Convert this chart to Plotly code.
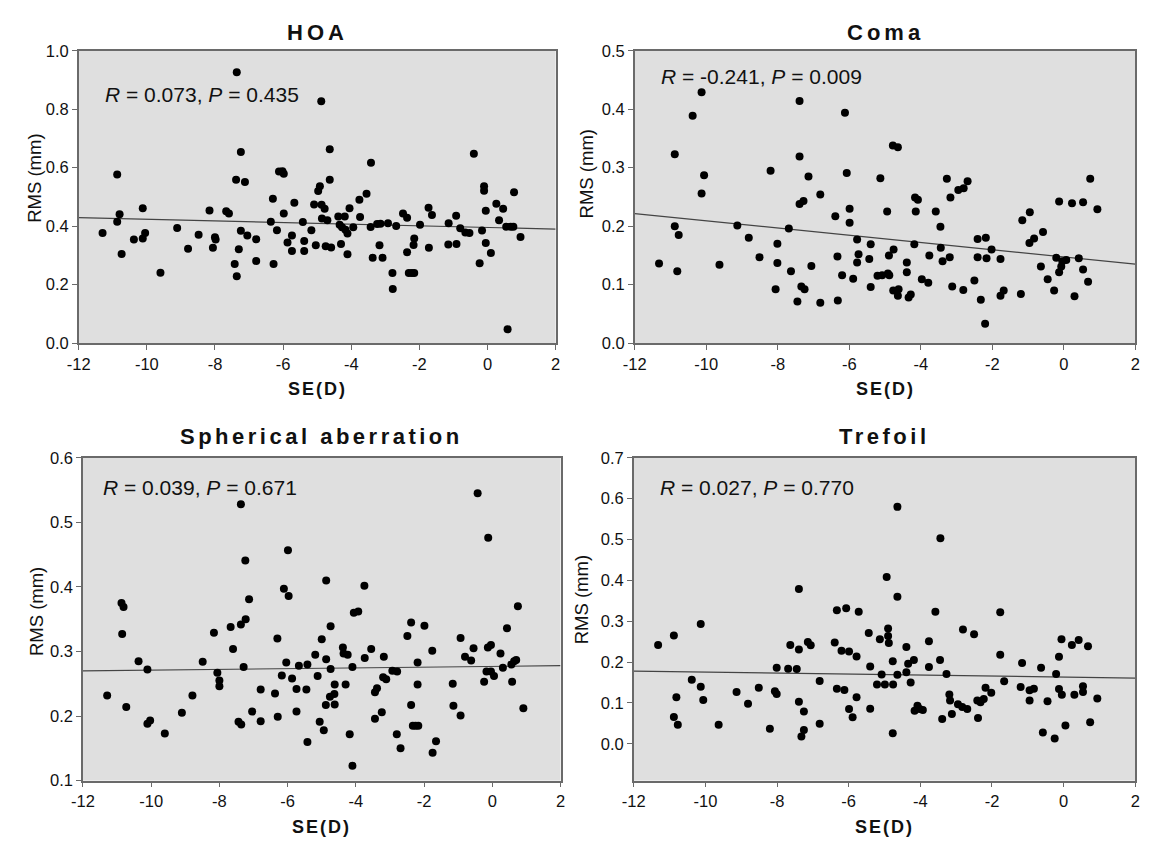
import plotly.graph_objects as go

# ---- data: spherical equivalent (D) vs RMS (mm) per aberration ----
hoa_se = [-11.30, -10.87, -10.87, -10.80, -10.74, -10.38, -10.12, -10.12, -10.05, -9.60,
          -9.11, -8.79, -8.48, -8.16, -8.06, -8.00, -7.98, -7.67, -7.59, -7.36,
          -7.38, -7.24, -7.12, -7.42, -7.36, -7.30, -7.24, -7.05, -6.79, -6.79,
          -6.30, -6.28, -6.36, -6.18, -6.12, -6.02, -5.98, -5.98, -5.87, -5.74,
          -5.74, -5.67, -5.42, -5.38, -5.38, -5.17, -5.09, -5.04, -4.97, -4.92,
          -4.88, -4.87, -4.86, -4.78, -4.75, -4.70, -4.63, -4.63, -4.59, -4.38,
          -4.34, -4.30, -4.27, -4.19, -4.17, -4.11, -4.11, -4.05, -3.94, -3.76,
          -3.74, -3.55, -3.42, -3.43, -3.37, -3.24, -3.17, -3.14, -3.08, -2.92,
          -2.79, -2.78, -2.68, -2.48, -2.36, -2.36, -2.31, -2.22, -2.15, -2.17,
          -2.15, -1.98, -1.73, -1.72, -1.63, -1.15, -1.14, -0.92, -0.91, -0.80,
          -0.65, -0.53, -0.40, -0.23, -0.16, -0.10, -0.10, -0.05, -0.05, 0.10,
          0.26, 0.34, 0.46, 0.55, 0.59, 0.68, 0.78, 0.76, 0.97]
hoa_rms = [0.377, 0.577, 0.415, 0.441, 0.305, 0.354, 0.461, 0.358, 0.377, 0.241,
           0.394, 0.323, 0.371, 0.454, 0.326, 0.362, 0.354, 0.451, 0.443, 0.927,
           0.559, 0.654, 0.551, 0.271, 0.229, 0.321, 0.384, 0.368, 0.355, 0.281,
           0.494, 0.271, 0.415, 0.386, 0.587, 0.588, 0.579, 0.443, 0.344, 0.368,
           0.315, 0.480, 0.414, 0.349, 0.315, 0.386, 0.474, 0.335, 0.520, 0.537,
           0.827, 0.473, 0.426, 0.460, 0.331, 0.420, 0.663, 0.559, 0.327, 0.433,
           0.405, 0.339, 0.396, 0.433, 0.388, 0.375, 0.304, 0.461, 0.396, 0.490,
           0.431, 0.511, 0.617, 0.397, 0.292, 0.407, 0.335, 0.408, 0.292, 0.410,
           0.240, 0.185, 0.401, 0.443, 0.429, 0.311, 0.240, 0.240, 0.240, 0.336,
           0.358, 0.405, 0.463, 0.326, 0.438, 0.337, 0.410, 0.436, 0.339, 0.393,
           0.378, 0.377, 0.648, 0.273, 0.385, 0.537, 0.521, 0.453, 0.342, 0.308,
           0.477, 0.420, 0.460, 0.398, 0.047, 0.398, 0.516, 0.398, 0.363]

coma_se = [-11.32, -10.88, -10.88, -10.81, -10.77, -10.38, -10.13, -10.06, -10.13, -9.63,
           -9.13, -8.81, -8.51, -8.20, -8.01, -8.01, -8.06, -7.69, -7.63, -7.39,
           -7.39, -7.39, -7.28, -7.14, -7.45, -7.34, -7.25, -7.06, -6.81, -6.81,
           -6.39, -6.33, -6.32, -6.20, -6.12, -6.07, -5.99, -5.99, -5.89, -5.78,
           -5.74, -5.78, -5.44, -5.40, -5.40, -5.21, -5.13, -5.08, -4.94, -4.92,
           -4.88, -4.89, -4.76, -4.78, -4.64, -4.77, -4.62, -4.64, -4.39, -4.39,
           -4.34, -4.28, -4.18, -4.16, -4.08, -4.14, -3.97, -3.79, -3.76, -3.58,
           -3.45, -3.44, -3.39, -3.27, -3.19, -3.17, -3.12, -2.95, -2.80, -2.69,
           -2.81, -2.50, -2.41, -2.41, -2.32, -2.20, -2.18, -2.16, -2.02, -1.77,
           -1.77, -1.68, -1.20, -1.16, -0.95, -0.96, -0.83, -0.58, -0.64, -0.45,
           -0.27, -0.21, -0.13, -0.13, -0.07, -0.04, 0.07, 0.23, 0.30, 0.42,
           0.54, 0.54, 0.68, 0.74, 0.94]
coma_rms = [0.136, 0.323, 0.200, 0.123, 0.185, 0.389, 0.429, 0.287, 0.256, 0.134,
            0.201, 0.180, 0.147, 0.295, 0.170, 0.137, 0.092, 0.196, 0.123, 0.414,
            0.319, 0.238, 0.243, 0.285, 0.071, 0.097, 0.092, 0.132, 0.254, 0.069,
            0.217, 0.148, 0.073, 0.116, 0.394, 0.291, 0.230, 0.206, 0.110, 0.177,
            0.152, 0.138, 0.144, 0.169, 0.096, 0.115, 0.282, 0.116, 0.225, 0.119,
            0.116, 0.150, 0.160, 0.338, 0.335, 0.090, 0.092, 0.081, 0.138, 0.121,
            0.078, 0.083, 0.169, 0.249, 0.245, 0.225, 0.109, 0.103, 0.150, 0.225,
            0.199, 0.163, 0.140, 0.281, 0.147, 0.249, 0.097, 0.262, 0.265, 0.277,
            0.091, 0.107, 0.178, 0.147, 0.074, 0.033, 0.180, 0.145, 0.160, 0.144,
            0.081, 0.090, 0.084, 0.210, 0.224, 0.171, 0.179, 0.190, 0.131, 0.109,
            0.090, 0.146, 0.242, 0.121, 0.131, 0.140, 0.142, 0.239, 0.080, 0.145,
            0.241, 0.126, 0.105, 0.281, 0.229]

sph_se = [-11.29, -10.87, -10.81, -10.85, -10.73, -10.37, -10.11, -10.11, -10.03, -9.60,
          -9.10, -8.79, -8.49, -8.16, -8.06, -8.00, -8.00, -7.67, -7.60, -7.37,
          -7.37, -7.23, -7.24, -7.13, -7.29, -7.44, -7.36, -7.04, -6.79, -6.79,
          -6.37, -6.30, -6.29, -6.17, -6.11, -6.04, -5.99, -5.97, -5.87, -5.74,
          -5.74, -5.67, -5.42, -5.45, -5.42, -5.19, -5.12, -5.06, -5.00, -4.94,
          -4.88, -4.87, -4.87, -4.76, -4.74, -4.74, -4.63, -4.62, -4.62, -4.38,
          -4.36, -4.24, -4.30, -4.18, -4.10, -4.10, -4.06, -3.93, -3.75, -3.74,
          -3.55, -3.44, -3.38, -3.44, -3.24, -3.18, -3.20, -3.11, -2.93, -2.79,
          -2.80, -2.69, -2.49, -2.38, -2.38, -2.33, -2.25, -2.17, -2.19, -2.19,
          -1.99, -1.76, -1.75, -1.65, -1.16, -1.14, -0.93, -0.93, -0.80, -0.62,
          -0.55, -0.43, -0.24, -0.17, -0.13, -0.04, -0.12, -0.04, 0.05, 0.24,
          0.31, 0.43, 0.56, 0.58, 0.64, 0.70, 0.75, 0.91]
sph_rms = [0.232, 0.375, 0.369, 0.327, 0.214, 0.285, 0.272, 0.188, 0.193, 0.173,
           0.205, 0.232, 0.284, 0.329, 0.267, 0.255, 0.246, 0.338, 0.304, 0.528,
           0.342, 0.350, 0.441, 0.381, 0.276, 0.191, 0.187, 0.207, 0.241, 0.192,
           0.235, 0.320, 0.199, 0.263, 0.397, 0.283, 0.457, 0.386, 0.258, 0.242,
           0.207, 0.278, 0.160, 0.241, 0.280, 0.295, 0.262, 0.191, 0.319, 0.178,
           0.217, 0.288, 0.410, 0.230, 0.273, 0.339, 0.234, 0.249, 0.218, 0.306,
           0.297, 0.295, 0.249, 0.172, 0.276, 0.123, 0.360, 0.362, 0.402, 0.290,
           0.304, 0.237, 0.243, 0.196, 0.206, 0.292, 0.260, 0.257, 0.270, 0.269,
           0.172, 0.150, 0.324, 0.345, 0.217, 0.185, 0.185, 0.185, 0.283, 0.249,
           0.340, 0.301, 0.143, 0.161, 0.250, 0.216, 0.321, 0.201, 0.292, 0.286,
           0.305, 0.545, 0.253, 0.269, 0.306, 0.310, 0.476, 0.269, 0.262, 0.297,
           0.275, 0.336, 0.280, 0.253, 0.285, 0.287, 0.370, 0.212]

tre_se = [-11.32, -10.88, -10.88, -10.81, -10.77, -10.38, -10.13, -10.13, -10.06, -9.63,
          -9.13, -8.81, -8.51, -8.20, -8.01, -8.06, -8.01, -7.69, -7.63, -7.39,
          -7.39, -7.45, -7.39, -7.25, -7.25, -7.32, -7.14, -7.06, -6.81, -6.81,
          -6.39, -6.33, -6.33, -6.20, -6.12, -6.07, -5.99, -5.99, -5.89, -5.78,
          -5.78, -5.72, -5.44, -5.40, -5.40, -5.21, -5.13, -5.08, -4.99, -4.94,
          -4.90, -4.90, -4.88, -4.77, -4.76, -4.77, -4.64, -4.64, -4.64, -4.39,
          -4.39, -4.34, -4.27, -4.18, -4.16, -4.08, -4.02, -3.93, -3.76, -3.76,
          -3.58, -3.45, -3.44, -3.39, -3.27, -3.19, -3.17, -3.12, -2.95, -2.83,
          -2.69, -2.81, -2.50, -2.41, -2.39, -2.32, -2.23, -2.18, -2.02, -1.77,
          -1.77, -1.66, -1.20, -1.16, -0.95, -0.95, -0.83, -0.63, -0.58, -0.45,
          -0.25, -0.21, -0.13, -0.13, -0.06, -0.05, 0.05, 0.23, 0.30, 0.42,
          0.54, 0.54, 0.68, 0.74, 0.94]
tre_rms = [0.242, 0.265, 0.066, 0.114, 0.047, 0.157, 0.293, 0.140, 0.107, 0.047,
           0.127, 0.098, 0.137, 0.037, 0.186, 0.129, 0.122, 0.184, 0.242, 0.379,
           0.231, 0.183, 0.103, 0.079, 0.034, 0.018, 0.249, 0.241, 0.154, 0.049,
           0.248, 0.327, 0.135, 0.228, 0.132, 0.332, 0.226, 0.085, 0.065, 0.214,
           0.114, 0.323, 0.271, 0.189, 0.086, 0.145, 0.256, 0.170, 0.145, 0.408,
           0.282, 0.264, 0.247, 0.202, 0.145, 0.026, 0.580, 0.360, 0.169, 0.237,
           0.175, 0.196, 0.150, 0.205, 0.081, 0.093, 0.085, 0.083, 0.251, 0.188,
           0.323, 0.205, 0.503, 0.061, 0.171, 0.121, 0.106, 0.073, 0.097, 0.090,
           0.085, 0.280, 0.268, 0.106, 0.063, 0.102, 0.110, 0.137, 0.125, 0.322,
           0.218, 0.153, 0.139, 0.198, 0.106, 0.131, 0.135, 0.186, 0.028, 0.104,
           0.013, 0.171, 0.213, 0.134, 0.256, 0.120, 0.045, 0.242, 0.120, 0.254,
           0.141, 0.127, 0.239, 0.053, 0.111]

# fitted regression lines, values at SE = -12 and SE = 2
fit_x = [-12, 2]
hoa_fit = [0.429, 0.390]
coma_fit = [0.2215, 0.135]
sph_fit = [0.270, 0.278]
tre_fit = [0.178, 0.161]

titles = ["HOA", "Coma", "Spherical aberration", "Trefoil"]
stats = ["<i>R</i> = 0.073, <i>P</i> = 0.435",
         "<i>R</i> = -0.241, <i>P</i> = 0.009",
         "<i>R</i> = 0.039, <i>P</i> = 0.671",
         "<i>R</i> = 0.027, <i>P</i> = 0.770"]

x_ticks = [-12, -10, -8, -6, -4, -2, 0, 2]
x_tick_text = ["-12", "-10", "-8", "-6", "-4", "-2", "0", "2"]

y_ranges = [[0, 1.0], [0, 0.5], [0.1, 0.6], [-0.09, 0.7]]
y_ticks = [[0.0, 0.2, 0.4, 0.6, 0.8, 1.0],
           [0.0, 0.1, 0.2, 0.3, 0.4, 0.5],
           [0.1, 0.2, 0.3, 0.4, 0.5, 0.6],
           [0.0, 0.1, 0.2, 0.3, 0.4, 0.5, 0.6, 0.7]]

W, H = 1159, 851
FONT = "Liberation Sans, Arial, Helvetica, sans-serif"
AXIS_GRAY = "#6a6a6a"

# panel frames in pixels: (left, right, top, bottom)
frames = [(67.7, 551.7, 42.7, 341.3),
          (632.0, 1140.0, 42.7, 341.3),
          (72.0, 556.7, 458.5, 788.3),
          (631.0, 1140.0, 458.5, 788.3)]

series = [(hoa_se, hoa_rms, hoa_fit),
          (coma_se, coma_rms, coma_fit),
          (sph_se, sph_rms, sph_fit),
          (tre_se, tre_rms, tre_fit)]

fig = go.Figure()
layout = dict(width=W, height=H, margin=dict(l=0, r=0, t=0, b=0),
              paper_bgcolor="white", plot_bgcolor="#dfdfdf",
              showlegend=False, font=dict(family=FONT, color="#111111"))

annotations = []
for i, ((se, rms, fit), (l, r, t, b)) in enumerate(zip(series, frames)):
    n = i + 1
    xa, ya = ("x", "y") if n == 1 else (f"x{n}", f"y{n}")
    fig.add_trace(go.Scatter(x=fit_x, y=fit, mode="lines", xaxis=xa, yaxis=ya,
                             line=dict(color="#444444", width=1.2),
                             hoverinfo="skip"))
    fig.add_trace(go.Scatter(x=se, y=rms, mode="markers", xaxis=xa, yaxis=ya,
                             marker=dict(color="black", size=8,
                                         line=dict(width=0))))

    xkey = "xaxis" if n == 1 else f"xaxis{n}"
    ykey = "yaxis" if n == 1 else f"yaxis{n}"
    layout[xkey] = dict(domain=[l / W, r / W], anchor=ya, range=[-12, 2],
                        tickvals=x_ticks, ticktext=x_tick_text,
                        showline=True, mirror=True, linecolor=AXIS_GRAY,
                        linewidth=1.5, ticks="outside", ticklen=5,
                        tickwidth=1.2, tickcolor=AXIS_GRAY, showgrid=False,
                        zeroline=False, tickfont=dict(size=16.5, family=FONT))
    layout[ykey] = dict(domain=[1 - b / H, 1 - t / H], anchor=xa,
                        range=y_ranges[i], tickvals=y_ticks[i],
                        ticktext=[f"{v:.1f}" for v in y_ticks[i]],
                        showline=True, mirror=True, linecolor=AXIS_GRAY,
                        linewidth=1.5, ticks="outside", ticklen=5,
                        tickwidth=1.2, tickcolor=AXIS_GRAY, showgrid=False,
                        zeroline=False, tickfont=dict(size=16.5, family=FONT))

    cx = (l + r) / 2
    title_y = 23.5 if i < 2 else 437.0
    spacing = "4px" if i < 2 else "3.5px"
    annotations.append(dict(
        text=f'<span style="letter-spacing:{spacing}"><b>{titles[i]}</b></span>',
        x=cx / W, y=1 - title_y / H, xref="paper", yref="paper",
        xanchor="center", yanchor="middle", showarrow=False,
        font=dict(size=22, family=FONT, color="#111111")))
    # x-axis title
    annotations.append(dict(
        text='<span style="letter-spacing:2px"><b>SE(D)</b></span>',
        x=cx / W, y=1 - (b + 47) / H, xref="paper", yref="paper",
        xanchor="center", yanchor="middle", showarrow=False,
        font=dict(size=18, family=FONT, color="#111111")))
    # y-axis title
    ytitle_pos = [(22.5, 173.3), (582.5, 168.0), (24.7, 615.8), (578.3, 603.3)][i]
    annotations.append(dict(
        text="RMS (mm)", textangle=-90,
        x=ytitle_pos[0] / W, y=1 - ytitle_pos[1] / H, xref="paper", yref="paper",
        xanchor="center", yanchor="middle", showarrow=False,
        font=dict(size=18.5, family=FONT, color="#111111")))
    # correlation statistics
    stat_pos = [(92.7, 87.3), (656.7, 68.5), (90.7, 489.3), (656.0, 489.3)][i]
    annotations.append(dict(
        text=stats[i], x=stat_pos[0] / W, y=1 - stat_pos[1] / H,
        xref="paper", yref="paper", xanchor="left", yanchor="middle",
        showarrow=False, font=dict(size=21, family=FONT, color="#111111")))

layout["annotations"] = annotations
fig.update_layout(**layout)
fig.write_html("out.html")
